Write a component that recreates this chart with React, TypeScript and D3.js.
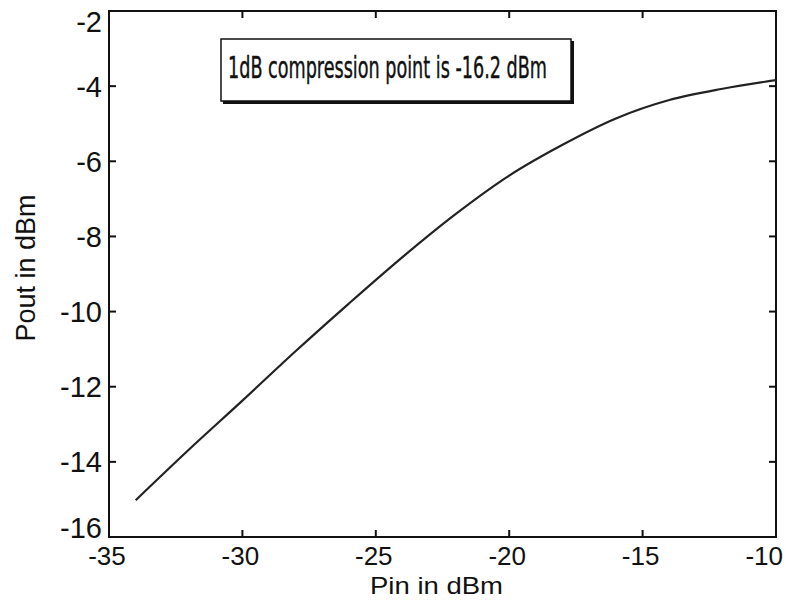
import { useEffect, useRef } from 'react';
import * as d3 from 'd3';

// values
const pin = [-34, -32, -30, -28, -26, -24, -22, -20, -18, -16, -14, -12, -10];
const pout = [-15.02, -13.67, -12.37, -11.05, -9.78, -8.55, -7.4, -6.38, -5.56, -4.86, -4.37, -4.07, -3.84];
const xTicks = [-35, -30, -25, -20, -15, -10];
const yTicks = [-16, -14, -12, -10, -8, -6, -4, -2];
const note = '1dB compression point is -16.2 dBm';

const App = () => {
  const ref = useRef<SVGSVGElement>(null);

  useEffect(() => {
    const width = 786;
    const height = 602;
    const m = { left: 109, right: 10, top: 11, bottom: 65 };

    const svg = d3.select(ref.current)
      .attr('width', width)
      .attr('height', height)
      .style('display', 'block')
      .style('background', '#fff');
    svg.selectAll('*').remove();

    const x = d3.scaleLinear().domain([-35, -10]).range([m.left, width - m.right]);
    const y = d3.scaleLinear().domain([-16, -2]).range([height - m.bottom, m.top]);

    const font = 'Arial, "Liberation Sans", sans-serif';
    const tickLen = 7;

    // frame
    svg.append('rect')
      .attr('x', x(-35))
      .attr('y', y(-2))
      .attr('width', x(-10) - x(-35))
      .attr('height', y(-16) - y(-2))
      .attr('fill', 'none')
      .attr('stroke', '#111')
      .attr('stroke-width', 2);

    // x ticks (bottom + top, inward)
    const xt = svg.append('g');
    xt.selectAll('.xb')
      .data(xTicks)
      .join('line')
      .attr('class', 'xb')
      .attr('x1', (d) => x(d)).attr('x2', (d) => x(d))
      .attr('y1', y(-16)).attr('y2', y(-16) - tickLen)
      .attr('stroke', '#111').attr('stroke-width', 2);
    xt.selectAll('.xtop')
      .data(xTicks)
      .join('line')
      .attr('class', 'xtop')
      .attr('x1', (d) => x(d)).attr('x2', (d) => x(d))
      .attr('y1', y(-2)).attr('y2', y(-2) + tickLen)
      .attr('stroke', '#111').attr('stroke-width', 2);
    svg.append('g')
      .selectAll('text')
      .data(xTicks)
      .join('text')
      .attr('x', (d, i) => (i === xTicks.length - 1 ? width - 3 : x(d) - 2))
      .attr('y', y(-16) + 28)
      .attr('text-anchor', (d, i) => (i === xTicks.length - 1 ? 'end' : 'middle'))
      .attr('font-family', font)
      .attr('font-size', 26)
      .attr('fill', '#111')
      .text((d) => d);

    // y ticks (left + right, inward)
    const yt = svg.append('g');
    yt.selectAll('.yl')
      .data(yTicks)
      .join('line')
      .attr('class', 'yl')
      .attr('x1', x(-35)).attr('x2', x(-35) + tickLen)
      .attr('y1', (d) => y(d)).attr('y2', (d) => y(d))
      .attr('stroke', '#111').attr('stroke-width', 2);
    yt.selectAll('.yr')
      .data(yTicks)
      .join('line')
      .attr('class', 'yr')
      .attr('x1', x(-10)).attr('x2', x(-10) - tickLen)
      .attr('y1', (d) => y(d)).attr('y2', (d) => y(d))
      .attr('stroke', '#111').attr('stroke-width', 2);
    // end labels are kept inside the frame's height, as in the reference
    svg.append('g')
      .selectAll('text')
      .data(yTicks)
      .join('text')
      .attr('x', x(-35) - 7)
      .attr('y', (d) => Math.min(Math.max(y(d) + 10.5, 32), y(-16) + 1))
      .attr('text-anchor', 'end')
      .attr('font-family', font)
      .attr('font-size', 29)
      .attr('fill', '#111')
      .text((d) => d);

    // axis labels
    svg.append('text')
      .attr('x', (x(-35) + x(-10)) / 2 - 6)
      .attr('y', 594)
      .attr('text-anchor', 'middle')
      .attr('font-family', font)
      .attr('font-size', 24)
      .attr('textLength', 133)
      .attr('lengthAdjust', 'spacingAndGlyphs')
      .attr('fill', '#111')
      .text('Pin in dBm');
    svg.append('text')
      .attr('transform', `translate(35,${(y(-2) + y(-16)) / 2 - 6}) rotate(-90)`)
      .attr('text-anchor', 'middle')
      .attr('font-family', font)
      .attr('font-size', 27)
      .attr('fill', '#111')
      .text('Pout in dBm');

    // curve
    const line = d3.line<number>()
      .x((d, i) => x(pin[i]))
      .y((d) => y(d))
      .curve(d3.curveMonotoneX);
    svg.append('path')
      .datum(pout)
      .attr('d', line)
      .attr('fill', 'none')
      .attr('stroke', '#222')
      .attr('stroke-width', 2.2)
      .attr('stroke-linejoin', 'round');

    // annotation box
    const box = svg.append('g');
    box.append('rect')
      .attr('x', 223).attr('y', 41)
      .attr('width', 351).attr('height', 63)
      .attr('fill', '#111');
    box.append('rect')
      .attr('x', 221).attr('y', 39)
      .attr('width', 350).attr('height', 62)
      .attr('fill', '#fff')
      .attr('stroke', '#111')
      .attr('stroke-width', 1.5);
    box.append('text')
      .attr('x', 228)
      .attr('y', 78)
      .attr('font-family', '"DejaVu Sans Condensed", "Liberation Sans Narrow", Arial, sans-serif')
      .attr('font-size', 30)
      .attr('textLength', 319)
      .attr('lengthAdjust', 'spacingAndGlyphs')
      .attr('fill', '#111')
      .attr('stroke', '#111')
      .attr('stroke-width', 0.4)
      .text(note);
  }, []);

  return (
    <div style={{ position: 'fixed', left: 0, top: 0 }}>
      <svg ref={ref}></svg>
    </div>
  );
};

export default App;
